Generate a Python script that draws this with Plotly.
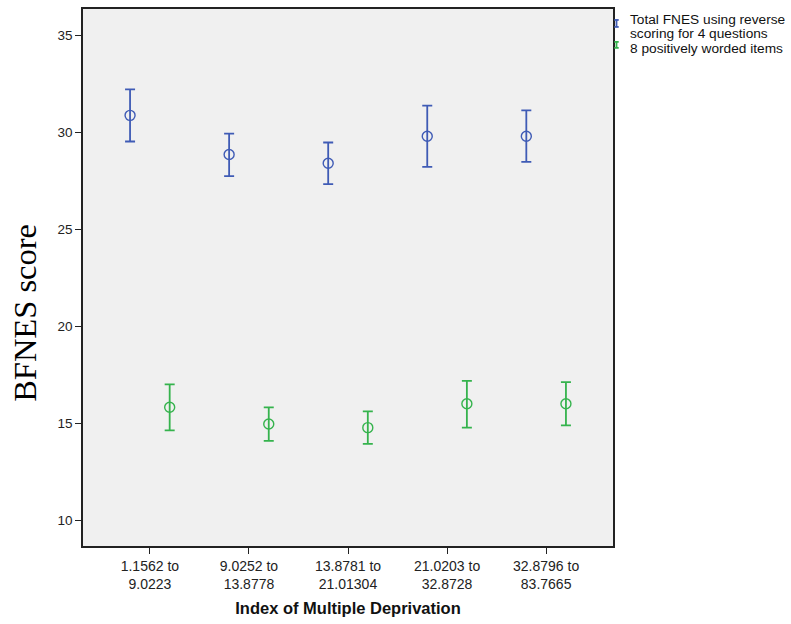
import plotly.graph_objects as go

categories = ["1.1562 to<br>9.0223", "9.0252 to<br>13.8778", "13.8781 to<br>21.01304",
              "21.0203 to<br>32.8728", "32.8796 to<br>83.7665"]
cat_idx = [0, 1, 2, 3, 4]

total_mean = [30.89, 28.87, 28.42, 29.81, 29.81]
total_upper = [32.23, 29.95, 29.49, 31.39, 31.15]
total_lower = [29.54, 27.75, 27.34, 28.23, 28.49]

pos_mean = [15.82, 14.96, 14.77, 16.00, 16.00]
pos_upper = [17.00, 15.82, 15.61, 17.18, 17.12]
pos_lower = [14.63, 14.09, 13.93, 14.77, 14.89]

legend_lines_1 = ["Total FNES using reverse", "scoring for 4 questions"]
legend_lines_2 = ["8 positively worded items"]
y_ticks = [10, 15, 20, 25, 30, 35]

BLUE = "#3f5bb5"
GREEN = "#35b34d"
OFFSET = 0.2

fig = go.Figure()

def add_series(mean, upper, lower, color, shift):
    xs = [c + shift for c in cat_idx]
    fig.add_trace(go.Scatter(
        x=xs, y=mean, mode="markers", showlegend=False,
        marker=dict(symbol="circle-open", size=10, color=color, line=dict(width=1.4, color=color)),
        error_y=dict(type="data", symmetric=False,
                     array=[u - m for u, m in zip(upper, mean)],
                     arrayminus=[m - l for m, l in zip(mean, lower)],
                     color=color, thickness=1.8, width=5),
    ))

add_series(total_mean, total_upper, total_lower, BLUE, -OFFSET)
add_series(pos_mean, pos_upper, pos_lower, GREEN, OFFSET)

W, H = 791, 624
ML, MR, MT, MB = 83, 178, 7, 78
pw, ph = W - ML - MR, H - MT - MB
def px_x(px):
    return (px - ML) / pw
def px_y(py):
    return (H - MB - py) / ph

LEG_FONT = dict(family="Arial, Liberation Sans, sans-serif", size=13.7, color="#111")
legend_text_rows = [(legend_lines_1[0], 18), (legend_lines_1[1], 32), (legend_lines_2[0], 47)]
for text, ty in legend_text_rows:
    fig.add_annotation(xref="paper", yref="paper", x=px_x(628), y=px_y(ty), xanchor="left", yanchor="middle",
                       text=text, showarrow=False, align="left", font=LEG_FONT)

for color, g0, g1 in [(BLUE, 18, 25), (GREEN, 40, 46)]:
    gx = px_x(616.5)
    fig.add_shape(type="line", xref="paper", yref="paper", x0=gx, x1=gx, y0=px_y(g0), y1=px_y(g1),
                  line=dict(color=color, width=1.8))
    for gy in (g0, g1):
        fig.add_shape(type="line", xref="paper", yref="paper", x0=px_x(614.3), x1=px_x(618.7),
                      y0=px_y(gy), y1=px_y(gy), line=dict(color=color, width=1.8))

fig.add_annotation(xref="paper", yref="paper", x=px_x(25), y=px_y(312), textangle=-90,
                   xanchor="center", yanchor="middle",
                   text="BFNES score", showarrow=False,
                   font=dict(family="Liberation Serif, Times New Roman, serif", size=32.5, color="#000"))

fig.update_layout(
    width=W, height=H,
    margin=dict(l=ML, r=MR, t=MT, b=MB),
    paper_bgcolor="white", plot_bgcolor="#f0f0f0",
    font=dict(family="Arial, Liberation Sans, sans-serif", size=14, color="#222"),
    showlegend=False,
)
fig.update_xaxes(range=[-0.675, 4.675], tickvals=cat_idx, ticktext=categories,
                 showgrid=False, zeroline=False, showline=True, linecolor="#222", linewidth=1.5,
                 mirror=True, ticks="outside", ticklen=6, tickcolor="#222", tickwidth=1.2,
                 title=dict(text="<b>Index of Multiple Deprivation</b>", standoff=12,
                            font=dict(size=16.5, color="#111")))
fig.update_yaxes(range=[8.66, 36.38], tickvals=y_ticks,
                 showgrid=False, zeroline=False, showline=True, linecolor="#222", linewidth=1.5,
                 mirror=True, ticks="outside", ticklen=6, tickcolor="#222", tickwidth=1.2,
                 tickfont=dict(size=13.5))

fig.write_html("out.html", config={"displayModeBar": False},
               post_script="document.body.style.margin='0px';")
